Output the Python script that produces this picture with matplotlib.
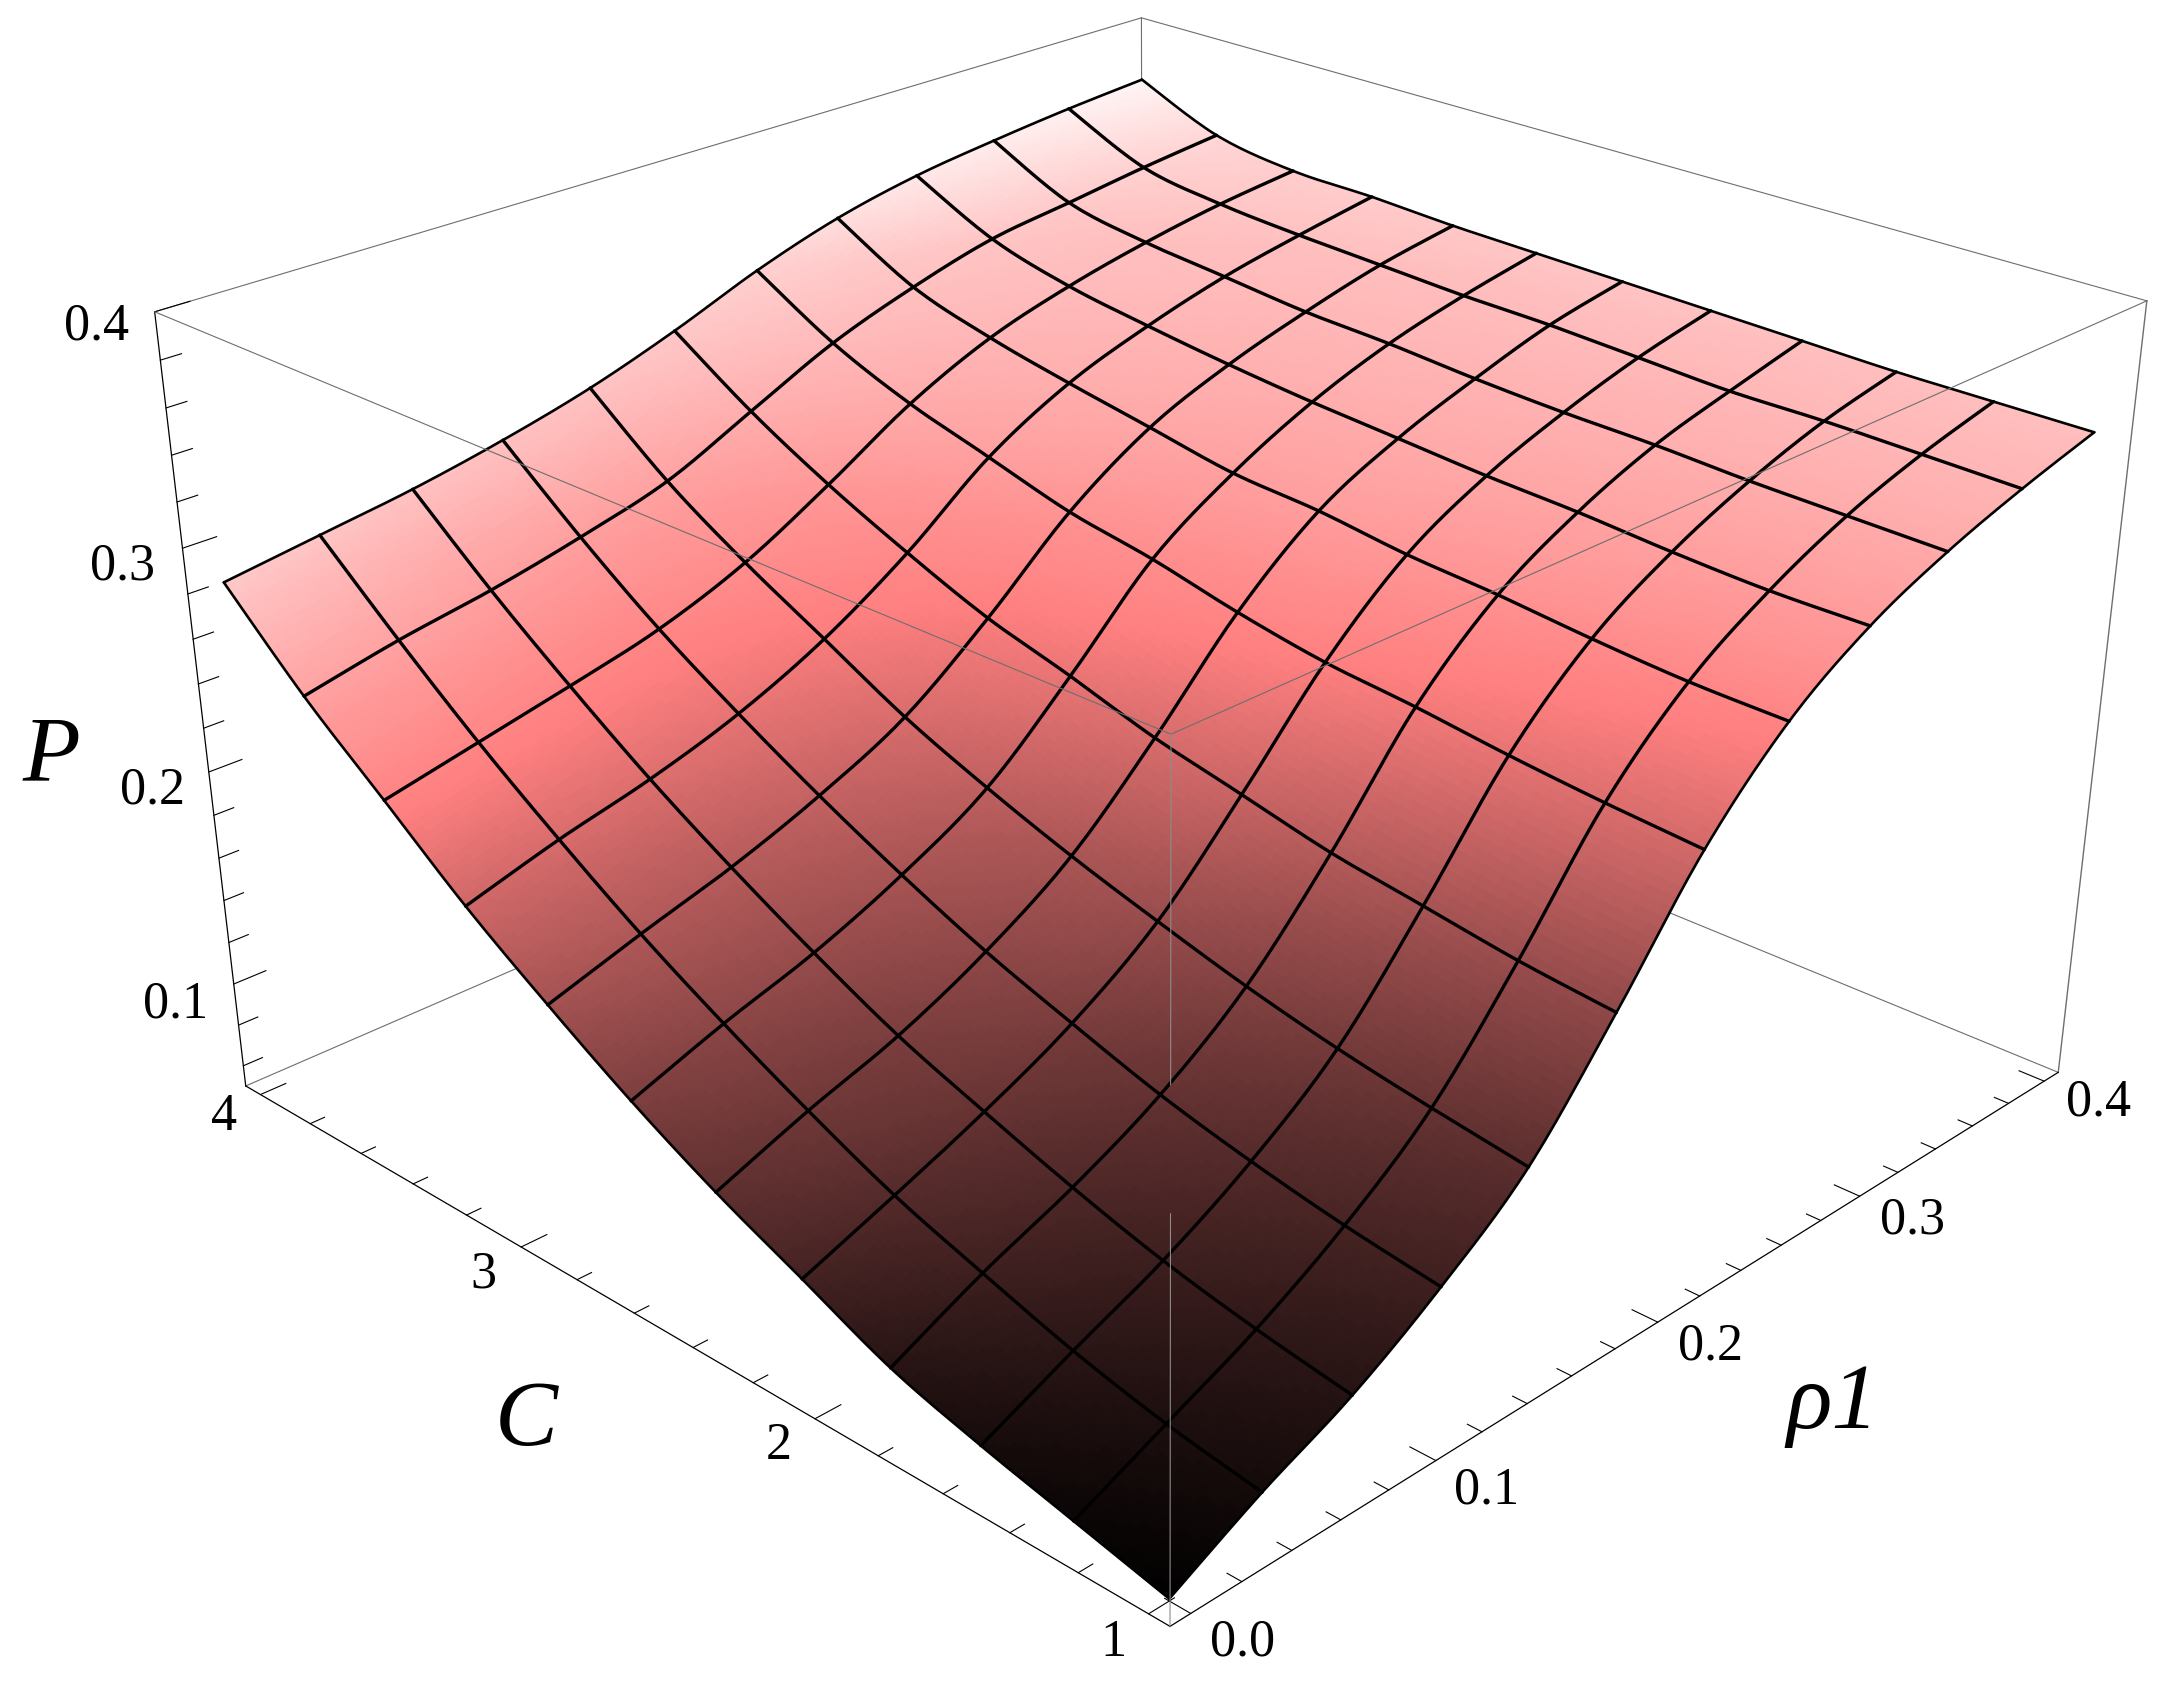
import numpy as np
import matplotlib
matplotlib.use('Agg')
import matplotlib.pyplot as plt
from matplotlib.colors import LinearSegmentedColormap

# mesh nodes of the surface
rho_nodes = [0.0, 0.0364, 0.0727, 0.1091, 0.1455, 0.1818, 0.2182, 0.2545, 0.2909, 0.3273, 0.3636, 0.4]
c_nodes = [1.0, 1.2727, 1.5455, 1.8182, 2.0909, 2.3636, 2.6364, 2.9091, 3.1818, 3.4545, 3.7273, 4.0]

# P, one row per C node, one column per rho node
p_c100 = [0.051, 0.073, 0.092, 0.117, 0.148, 0.195, 0.246, 0.283, 0.307, 0.323, 0.335, 0.345]
p_c127 = [0.061, 0.080, 0.099, 0.123, 0.154, 0.199, 0.249, 0.284, 0.307, 0.324, 0.336, 0.345]
p_c155 = [0.071, 0.090, 0.108, 0.131, 0.161, 0.205, 0.253, 0.287, 0.309, 0.325, 0.337, 0.345]
p_c182 = [0.083, 0.103, 0.120, 0.141, 0.170, 0.211, 0.258, 0.291, 0.312, 0.327, 0.337, 0.346]
p_c209 = [0.101, 0.117, 0.134, 0.154, 0.181, 0.220, 0.262, 0.294, 0.314, 0.328, 0.339, 0.347]
p_c236 = [0.119, 0.135, 0.149, 0.168, 0.193, 0.229, 0.269, 0.299, 0.317, 0.330, 0.341, 0.348]
p_c264 = [0.140, 0.155, 0.168, 0.185, 0.207, 0.241, 0.278, 0.302, 0.320, 0.333, 0.342, 0.349]
p_c291 = [0.164, 0.177, 0.189, 0.204, 0.223, 0.252, 0.285, 0.309, 0.324, 0.335, 0.344, 0.350]
p_c318 = [0.190, 0.202, 0.212, 0.225, 0.243, 0.267, 0.296, 0.316, 0.329, 0.339, 0.346, 0.352]
p_c345 = [0.220, 0.229, 0.238, 0.248, 0.263, 0.284, 0.307, 0.324, 0.335, 0.343, 0.349, 0.353]
p_c373 = [0.250, 0.259, 0.266, 0.275, 0.286, 0.304, 0.322, 0.335, 0.345, 0.350, 0.355, 0.359]
p_c400 = [0.285, 0.291, 0.297, 0.305, 0.315, 0.328, 0.343, 0.355, 0.363, 0.368, 0.372, 0.375]

rho_ticks = [0.0, 0.1, 0.2, 0.3, 0.4]
c_ticks = [1, 2, 3, 4]
p_ticks = [0.1, 0.2, 0.3, 0.4]

# shade (0 black, 0.5 salmon, 1 white) against P
shade_p = [0.05, 0.054, 0.084, 0.116, 0.148, 0.194, 0.245, 0.281, 0.344, 0.375, 0.40]
shade_v = [0.0, 0.008, 0.06, 0.12, 0.18, 0.28, 0.41, 0.51, 0.74, 0.96, 1.0]

W, H = 2169, 1689
SUB = 16
RHO_LIM = (-0.008, 0.408)
C_LIM = (0.94, 4.06)
P_LIM = (0.05, 0.4)
GRID = '#6e6e6e'
AXIS = '#000000'

plt.rcParams['font.family'] = ['Liberation Serif', 'DejaVu Serif']


def refine(a, n, axis):
    # catmull-rom between the nodes, only so the shading and mesh come out smooth
    a = np.moveaxis(a, axis, 0)
    m = a.shape[0]
    s = np.arange(n) / n
    out = []
    for k in range(m - 1):
        p0, p1, p2, p3 = a[max(k - 1, 0)], a[k], a[k + 1], a[min(k + 2, m - 1)]
        for t in s:
            out.append(0.5 * (2 * p1 + (p2 - p0) * t + (2 * p0 - 5 * p1 + 4 * p2 - p3) * t**2
                              + (3 * p1 - p0 - 3 * p2 + p3) * t**3))
    out.append(a[-1])
    return np.moveaxis(np.array(out), 0, axis)


P = np.array([p_c100, p_c127, p_c155, p_c182, p_c209, p_c236,
              p_c264, p_c291, p_c318, p_c345, p_c373, p_c400])
rho_fine = refine(np.array(rho_nodes), SUB, 0)
c_fine = refine(np.array(c_nodes), SUB, 0)
P_fine = refine(refine(P, SUB, 0), SUB, 1)
RHO, CC = np.meshgrid(rho_fine, c_fine)

# the left, far side of the surface is lit a bit brighter
rn = (RHO - rho_nodes[0]) / (rho_nodes[-1] - rho_nodes[0])
cn = (CC - c_nodes[0]) / (c_nodes[-1] - c_nodes[0])
light = 1 + 0.5 * (1 - rn)**2 * np.minimum(cn * 2.5, 1)
shade = np.clip(np.interp(P_fine, shade_p, shade_v) * light, 0, 1)
cmap = LinearSegmentedColormap.from_list('blackpink', ['#000000', '#ff8080', '#ffffff'])
# colour of each face from its four corners
face = 0.25 * (shade[:-1, :-1] + shade[1:, :-1] + shade[:-1, 1:] + shade[1:, 1:])

fig = plt.figure(figsize=(W / 100, H / 100), dpi=100)
ax = fig.add_subplot(projection='3d', computed_zorder=False)
ax.set_axis_off()
ax.patch.set_alpha(0)

ax.plot_surface(RHO, CC, P_fine, facecolors=cmap(face), rstride=1, cstride=1, shade=False,
                linewidth=0, antialiased=False, zorder=2)

# mesh
for k in range(len(c_nodes)):
    lw = 1.9 if k in (0, len(c_nodes) - 1) else 2.4
    ax.plot(rho_fine, np.full_like(rho_fine, c_nodes[k]), P_fine[k * SUB, :], color='k', lw=lw,
            zorder=3, solid_capstyle='round')
for k in range(len(rho_nodes)):
    lw = 1.9 if k in (0, len(rho_nodes) - 1) else 2.4
    ax.plot(np.full_like(c_fine, rho_nodes[k]), c_fine, P_fine[:, k * SUB], color='k', lw=lw,
            zorder=3, solid_capstyle='round')


def box_line(a, b, color=GRID, lw=0.8, zorder=1):
    ax.plot([a[0], b[0]], [a[1], b[1]], [a[2], b[2]], color=color, lw=lw, zorder=zorder)


r0, r1 = RHO_LIM
c0, c1 = C_LIM
z0, z1 = P_LIM
# far edges sit behind the surface
box_line((r0, c1, z1), (r1, c1, z1))
box_line((r1, c1, z1), (r1, c0, z1))
box_line((r1, c1, z0), (r1, c1, z1))
box_line((r0, c1, z0), (r1, c1, z0))
box_line((r1, c0, z0), (r1, c1, z0))
box_line((r1, c0, z0), (r1, c0, z1), lw=1.0)
# near edges run over it
box_line((r0, c0, z1), (r0, c1, z1), zorder=4)
box_line((r0, c0, z1), (r1, c0, z1), zorder=4)
box_line((r0, c0, 0.272), (r0, c0, z1), color='#8c8c8c', zorder=4)
box_line((r0, c0, z0), (r0, c0, 0.222), color='#8c8c8c', zorder=4)
# the three edges with ticks
box_line((r0, c1, z0), (r0, c1, z1), color=AXIS, lw=0.9, zorder=1)
box_line((r0, c0, z0), (r0, c1, z0), color=AXIS, lw=0.9, zorder=1)
box_line((r0, c0, z0), (r1, c0, z0), color=AXIS, lw=0.9, zorder=1)

for v in np.arange(3, 21) * 0.02:
    major = abs(v * 10 - round(v * 10)) < 1e-6
    box_line((r0, c1, v), (r0 + (0.0125 if major else 0.0075), c1, v), color=AXIS, lw=0.8)
for v in np.arange(5, 21) * 0.2:
    major = abs(v - round(v)) < 1e-6
    box_line((r0, v, z0), (r0 + (0.010 if major else 0.0056), v, z0), color=AXIS, lw=0.8)
for v in np.arange(0, 21) * 0.02:
    major = abs(v * 10 - round(v * 10)) < 1e-6
    box_line((v, c0, z0), (v, c0 + (0.073 if major else 0.041), z0), color=AXIS, lw=0.8)

ax.set_xlim(*RHO_LIM)
ax.set_ylim(*C_LIM)
ax.set_zlim(*P_LIM)
ax.view_init(elev=27.303, azim=-135.781, roll=0.054)
ax.set_proj_type('persp', focal_length=0.4095)
ax.set_box_aspect((1, 1.0006, 0.6979))
ax.set_position([0.08114, 0.00016, 0.87785, 1.12733])

# the picture is a little wider than the camera gives
base_proj = ax.get_proj
stretch = np.diag([1.0792, 1, 1, 1])
ax.get_proj = lambda: stretch @ base_proj()

# the stretch pushes the box past the square axes
for artist in list(ax.lines) + list(ax.collections):
    artist.set_clip_on(False)


def label(px, py, s, size=37.5, **kw):
    fig.text(px / W, 1 - py / H, s, fontsize=size, ha='center', va='center', **kw)


for v, (px, py) in zip(p_ticks, [(176, 1005), (152, 791), (123, 566), (97, 327)]):
    label(px, py, f'{v:.1f}')
for v, (px, py) in zip(c_ticks, [(1113, 1643), (779, 1446), (483, 1274), (224, 1117)]):
    label(px, py, str(v))
for v, (px, py) in zip(rho_ticks, [(1243, 1643), (1487, 1490), (1710, 1347), (1913, 1220), (2099, 1103)]):
    label(px, py, f'{v:.1f}')

label(51, 758, 'P', size=68, style='italic')
label(526, 1422, 'C', size=68, style='italic')
label(1833, 1406, '\u03c11', size=68, style='italic')

fig.savefig('out.png', dpi=100)
